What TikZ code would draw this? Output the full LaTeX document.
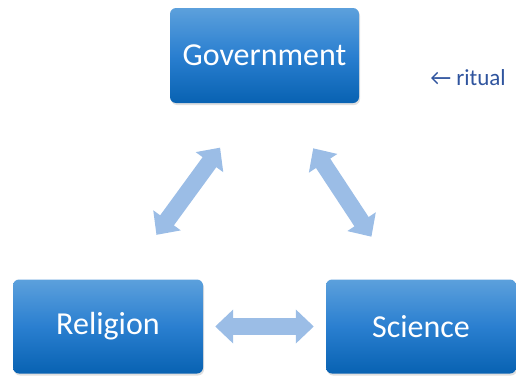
\documentclass[tikz,border=0pt]{standalone}
\usepackage{fontspec}
\setmainfont{Carlito}
\usetikzlibrary{arrows.meta}
\usetikzlibrary{shadows}
\definecolor{boxtop}{HTML}{5CA0DC}
\definecolor{boxmid}{HTML}{2A7FD0}
\definecolor{boxbot}{HTML}{0862B2}
\definecolor{linkblue}{HTML}{9BBDE6}
\definecolor{noteblue}{HTML}{2F549E}
\tikzset{box/.style={rounded corners=6pt, minimum width=190pt, minimum height=94pt,
   top color=boxtop, bottom color=boxbot, middle color=boxmid, text=white,
   font=\fontsize{32}{38}\selectfont,
   drop shadow={opacity=0.25, shadow xshift=1pt, shadow yshift=-2pt}},
 link/.style={draw=linkblue, line width=17pt,
   {Triangle[length=18pt, width=33pt]}-{Triangle[length=18pt, width=33pt]}},
 note/.style={text=noteblue, font=\fontsize{23}{27}\selectfont},
 }

\begin{document}
\begin{tikzpicture}[x=1pt, y=1pt]
        \useasboundingbox (0, 0) rectangle (516, 376);
        \node [box, minimum width=189pt, minimum height=95pt] (gov) at (264.5, 320.5) {Government};
        \node [box] (rel) at (108, 49.5) {Religion};
        \node [box] (sci) at (421, 49.5) {Science};
        \node [note] (ritual) at (468, 298) {← ritual};
        \draw [link, shorten <=55pt, shorten >=55pt] ([xshift=-12pt]gov.south) -- ([xshift=16pt]rel.north);
        \draw [link, shorten <=54pt, shorten >=51pt] ([xshift=19pt]gov.south) -- ([xshift=-21.5pt]sci.north);
        \draw [link, shorten <=12pt, shorten >=12pt] (rel.east) -- (sci.west);
    \end{tikzpicture}
\end{document}
